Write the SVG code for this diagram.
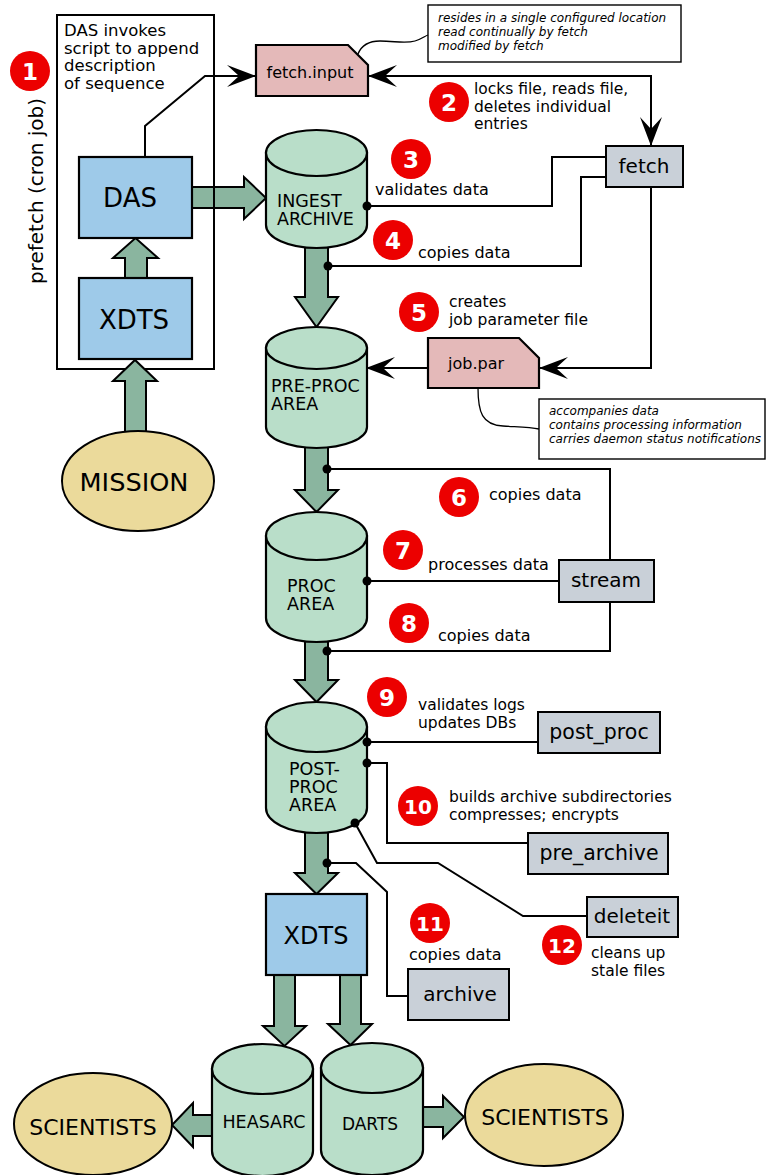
<svg xmlns="http://www.w3.org/2000/svg" width="766" height="1175" viewBox="0 0 766 1175">
<defs>
<style>
text{font-family:"DejaVu Sans","Liberation Sans",sans-serif;fill:#000}
.fat{fill:#8ab59f;stroke:#000;stroke-width:2;stroke-linejoin:miter}
.cyl{fill:#b9dec9;stroke:#000;stroke-width:2.2}
.blue{fill:#9ecae9;stroke:#000;stroke-width:2.2}
.pink{fill:#e4b9b9;stroke:#000;stroke-width:2.2}
.gray{fill:#c9d0d8;stroke:#000;stroke-width:2}
.tan{fill:#ebda9b;stroke:#000;stroke-width:2}
.ln{fill:none;stroke:#000;stroke-width:2}
.thin{fill:none;stroke:#000;stroke-width:1.3}
.note{fill:#fff;stroke:#000;stroke-width:1.4}
.it{font-style:italic;font-size:12px}
.lbl{font-size:16px}
.lbm{font-size:15.5px}
.num{fill:#ec0000}
.nt{fill:#fff;font-weight:bold;font-size:23px;text-anchor:middle}
.nt2{fill:#fff;font-weight:bold;font-size:20px;text-anchor:middle}
.dot{fill:#000}
</style>
<marker id="ah" markerUnits="userSpaceOnUse" markerWidth="34" markerHeight="30" viewBox="-32 -15 34 30" refX="0" refY="0" orient="auto-start-reverse">
<path d="M0,0 L-29,-11 L-17,0 L-29,11 Z" fill="#000"/>
</marker>
</defs>

<g id="fat-arrows">
<polygon class="fat" points="190,187 244,187 244,177 266,198 244,219 244,208 190,208"/>
</g>

<g id="prefetch">
<rect x="57" y="15" width="157" height="354" fill="none" stroke="#000" stroke-width="2"/>
<text font-size="16.5"><tspan x="64" y="36">DAS invokes</tspan><tspan x="64" y="53.5">script to append</tspan><tspan x="64" y="71">description</tspan><tspan x="64" y="88.5">of sequence</tspan></text>
<text transform="translate(43,191) rotate(-90)" font-size="20" text-anchor="middle">prefetch (cron job)</text>
</g>

<g id="fat-arrows-2">
<polygon class="fat" points="125,436 125,381 113,381 135,360 157,381 146,381 146,436"/>
<polygon class="fat" points="125,280 125,258 113,258 135.5,238 158,258 147,258 147,280"/>
<polygon class="fat" points="305,240 305,297 295,297 316.5,327 338,297 328,297 328,240"/>
<polygon class="fat" points="305,440 305,490 295,490 316.5,512 338,490 328,490 328,440"/>
<polygon class="fat" points="305,635 305,680 295,680 316.5,702 338,680 328,680 328,635"/>
<polygon class="fat" points="305,825 305,873 295,873 316.5,894 338,873 328,873 328,825"/>
<polygon class="fat" points="274,970 274,1026 263,1026 284.5,1046 306,1026 295,1026 295,970"/>
<polygon class="fat" points="340,970 340,1024 328,1024 350.5,1045 372,1024 361,1024 361,970"/>
<polygon class="fat" points="215,1115 193,1115 193,1103 172,1125 193,1147 193,1136 215,1136"/>
<polygon class="fat" points="420,1107 443,1107 443,1096 464,1117 443,1138 443,1127 420,1127"/>
</g>

<g id="das">
<rect class="blue" x="79" y="157" width="113" height="81"/>
<text x="130" y="207" font-size="26" text-anchor="middle">DAS</text>
</g>
<g id="xdts-top">
<rect class="blue" x="79" y="278" width="113" height="81"/>
<text x="134" y="329" font-size="26" text-anchor="middle">XDTS</text>
</g>
<g id="mission">
<ellipse class="tan" cx="138" cy="481" rx="76" ry="50"/>
<text x="134" y="491" font-size="25.6" text-anchor="middle">MISSION</text>
</g>

<g id="fetch-input">
<path class="pink" d="M256,45 H348 L368,65 V96 H256 Z"/>
<text x="310" y="78" font-size="16" text-anchor="middle">fetch.input</text>
</g>
<g id="fetch-input-note">
<rect class="note" x="428" y="5" width="253" height="57"/>
<text class="it"><tspan x="438" y="22">resides in a single configured location</tspan><tspan x="438" y="36">read continually by fetch</tspan><tspan x="438" y="50">modified by fetch</tspan></text>
</g>

<g id="fetch">
<rect class="gray" x="606" y="146" width="77" height="41"/>
<text x="644" y="173" font-size="20" text-anchor="middle">fetch</text>
</g>

<g id="ingest">
<path class="cyl" d="M266,153 V225 A50.5,23 0 0 0 367,225 V153 Z"/>
<ellipse class="cyl" cx="316.5" cy="153" rx="50.5" ry="23"/>
<text font-size="17.5"><tspan x="277" y="207">INGEST</tspan><tspan x="277" y="225">ARCHIVE</tspan></text>
</g>

<g id="job-par">
<path class="pink" d="M428,338 H519 L539,358 V388 H428 Z"/>
<text x="448" y="369" font-size="16">job.par</text>
</g>
<g id="job-par-note">
<rect class="note" x="539" y="399" width="226" height="60"/>
<text class="it"><tspan x="549" y="415">accompanies data</tspan><tspan x="549" y="429">contains processing information</tspan><tspan x="549" y="443">carries daemon status notifications</tspan></text>
</g>

<g id="pre-proc">
<path class="cyl" d="M266,348 V427 A50.5,21 0 0 0 367,427 V348 Z"/>
<ellipse class="cyl" cx="316.5" cy="348" rx="50.5" ry="21"/>
<text font-size="17.5"><tspan x="271" y="392">PRE-PROC</tspan><tspan x="271" y="410">AREA</tspan></text>
</g>

<g id="proc">
<path class="cyl" d="M266,536 V618 A50.5,24 0 0 0 367,618 V536 Z"/>
<ellipse class="cyl" cx="316.5" cy="536" rx="50.5" ry="24"/>
<text font-size="17.5"><tspan x="287" y="592">PROC</tspan><tspan x="287" y="610">AREA</tspan></text>
</g>

<g id="stream">
<rect class="gray" x="559" y="560" width="95" height="42"/>
<text x="606" y="587" font-size="20" text-anchor="middle">stream</text>
</g>

<g id="post-proc-area">
<path class="cyl" d="M266,727 V808 A50.5,25 0 0 0 367,808 V727 Z"/>
<ellipse class="cyl" cx="316.5" cy="727" rx="50.5" ry="25"/>
<text font-size="17.5"><tspan x="289" y="775">POST-</tspan><tspan x="289" y="793">PROC</tspan><tspan x="289" y="811">AREA</tspan></text>
</g>

<g id="post-proc">
<rect class="gray" x="538" y="712" width="122" height="41"/>
<text x="599" y="739" font-size="20.5" text-anchor="middle">post_proc</text>
</g>
<g id="pre-archive">
<rect class="gray" x="528" y="833" width="140" height="41"/>
<text x="599" y="860" font-size="20.5" text-anchor="middle">pre_archive</text>
</g>
<g id="deleteit">
<rect class="gray" x="587" y="897" width="91" height="40"/>
<text x="632" y="923" font-size="20" text-anchor="middle">deleteit</text>
</g>
<g id="archive">
<rect class="gray" x="408" y="969" width="101" height="51"/>
<text x="460" y="1001" font-size="20" text-anchor="middle">archive</text>
</g>

<g id="xdts-bottom">
<rect class="blue" x="266" y="894" width="101" height="81"/>
<text x="316" y="944" font-size="24" text-anchor="middle">XDTS</text>
</g>

<g id="heasarc">
<path class="cyl" d="M212,1069 V1151 A50.5,25 0 0 0 313,1151 V1069 Z"/>
<ellipse class="cyl" cx="262.5" cy="1069" rx="50.5" ry="25"/>
<text x="264" y="1128" font-size="17.5" text-anchor="middle">HEASARC</text>
</g>
<g id="darts">
<path class="cyl" d="M321,1068 V1150 A51,25 0 0 0 423,1150 V1068 Z"/>
<ellipse class="cyl" cx="372" cy="1068" rx="51" ry="25"/>
<text x="370" y="1130" font-size="17" text-anchor="middle">DARTS</text>
</g>

<g id="scientists-left">
<ellipse class="tan" cx="93" cy="1124" rx="79" ry="51"/>
<text x="93" y="1135" font-size="22" text-anchor="middle">SCIENTISTS</text>
</g>
<g id="scientists-right">
<ellipse class="tan" cx="544" cy="1115" rx="79" ry="51"/>
<text x="545" y="1125" font-size="22" text-anchor="middle">SCIENTISTS</text>
</g>

<g id="connectors">
<path class="ln" d="M145,157 V126 L205,76 H256" marker-end="url(#ah)"/>
<path class="ln" d="M368,76 H651 V146" marker-start="url(#ah)" marker-end="url(#ah)"/>
<path class="ln" d="M367,206 H552 V157 H606"/>
<path class="ln" d="M328,266 H581 V177 H606"/>
<path class="ln" d="M651,187 V368 H539" marker-end="url(#ah)"/>
<path class="ln" d="M428,368 H366" marker-end="url(#ah)"/>
<path class="ln" d="M327,469 H610 V560"/>
<path class="ln" d="M367,581 H559"/>
<path class="ln" d="M610,602 V651 H327"/>
<path class="ln" d="M367,742 H538"/>
<path class="ln" d="M367,763 H387 V843 H528"/>
<path class="ln" d="M355,823 L377,863 H438 L523,916 H587"/>
<path class="ln" d="M327,863 H356 L387,892 V996 H408"/>
<path class="thin" d="M358,54 C362,44 370,41 380,41 C395,41 405,44 415,41 C422,39 425,36 428,35"/>
<path class="thin" d="M478,388 C478,412 482,425 503,426 C520,427 530,427 539,429"/>
<circle class="dot" cx="367" cy="206" r="4.5"/>
<circle class="dot" cx="328" cy="266" r="4.5"/>
<circle class="dot" cx="327" cy="469" r="4.5"/>
<circle class="dot" cx="367" cy="581" r="4.5"/>
<circle class="dot" cx="327" cy="651" r="4.5"/>
<circle class="dot" cx="367" cy="742" r="4.5"/>
<circle class="dot" cx="367" cy="763" r="4.5"/>
<circle class="dot" cx="355" cy="823" r="4.5"/>
<circle class="dot" cx="327" cy="863" r="4.5"/>
</g>

<g id="steps">
<circle class="num" cx="30" cy="71" r="20"/><text class="nt" x="30" y="79.5">1</text>
<circle class="num" cx="449" cy="102" r="20"/><text class="nt" x="449" y="110.5">2</text>
<circle class="num" cx="411" cy="159" r="20"/><text class="nt" x="411" y="167.5">3</text>
<circle class="num" cx="393" cy="240" r="20"/><text class="nt" x="393" y="248.5">4</text>
<circle class="num" cx="419" cy="312" r="20"/><text class="nt" x="419" y="320.5">5</text>
<circle class="num" cx="459" cy="497" r="20"/><text class="nt" x="459" y="505.5">6</text>
<circle class="num" cx="403" cy="550" r="20"/><text class="nt" x="403" y="558.5">7</text>
<circle class="num" cx="409" cy="623" r="20"/><text class="nt" x="409" y="631.5">8</text>
<circle class="num" cx="387" cy="697" r="20"/><text class="nt" x="387" y="705.5">9</text>
<circle class="num" cx="418" cy="806" r="20"/><text class="nt2" x="418" y="813.5">10</text>
<circle class="num" cx="430" cy="923" r="20"/><text class="nt2" x="430" y="930.5">11</text>
<circle class="num" cx="562" cy="945" r="20"/><text class="nt2" x="562" y="952.5">12</text>
</g>

<g id="labels">
<text class="lbm"><tspan x="474" y="94">locks file, reads file,</tspan><tspan x="474" y="111.5">deletes individual</tspan><tspan x="474" y="129">entries</tspan></text>
<text class="lbl" x="375" y="195">validates data</text>
<text class="lbl" x="418" y="258">copies data</text>
<text class="lbm"><tspan x="449" y="307">creates</tspan><tspan x="449" y="324.5">job parameter file</tspan></text>
<text class="lbl" x="489" y="500">copies data</text>
<text class="lbl" x="428" y="570">processes data</text>
<text class="lbl" x="438" y="641">copies data</text>
<text class="lbm"><tspan x="418" y="710">validates logs</tspan><tspan x="418" y="727.5">updates DBs</tspan></text>
<text class="lbm"><tspan x="449" y="802">builds archive subdirectories</tspan><tspan x="449" y="819.5">compresses; encrypts</tspan></text>
<text class="lbl" x="409" y="960">copies data</text>
<text class="lbm"><tspan x="591" y="958">cleans up</tspan><tspan x="591" y="975.5">stale files</tspan></text>
</g>
</svg>
